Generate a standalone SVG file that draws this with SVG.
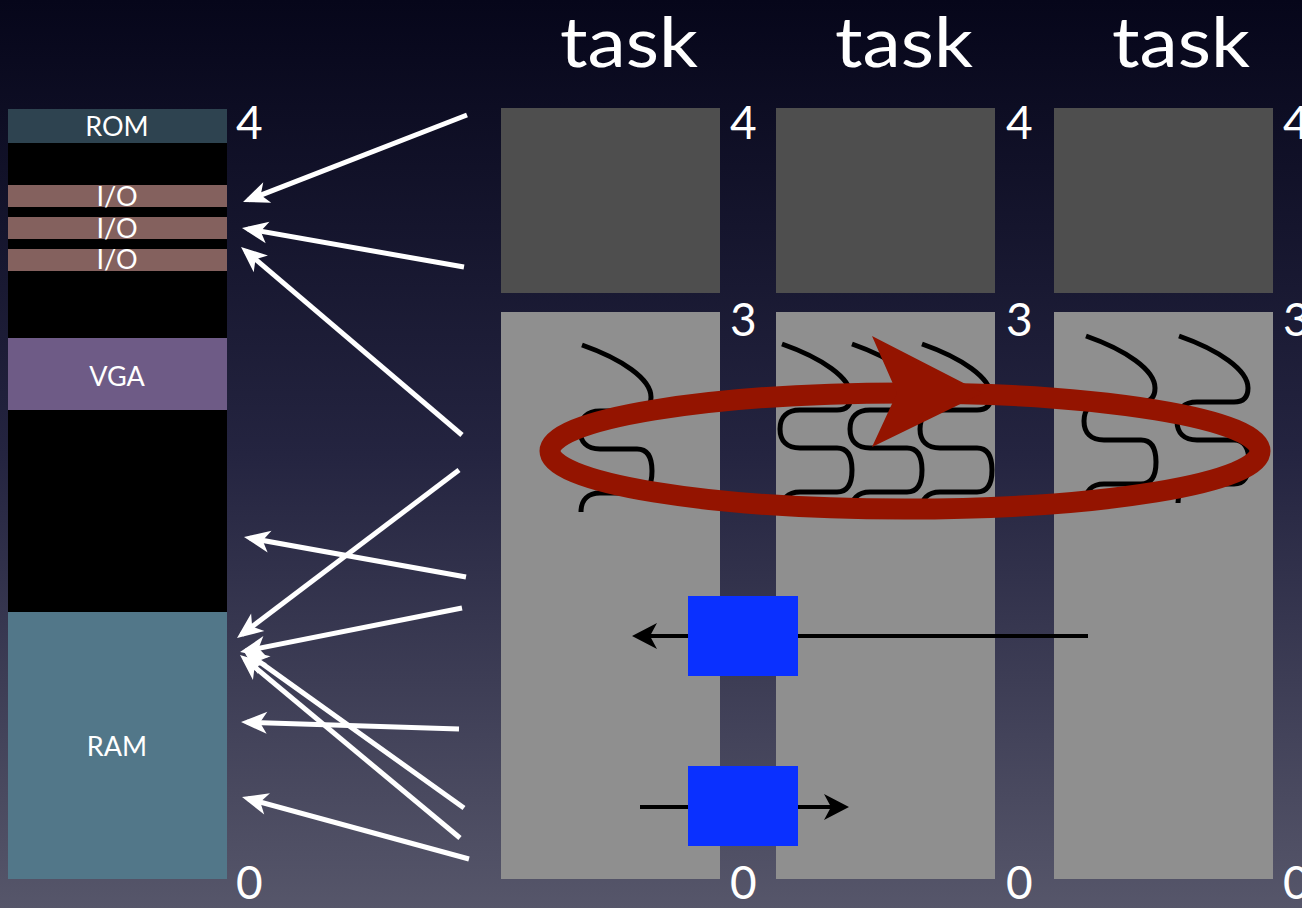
<svg xmlns="http://www.w3.org/2000/svg" xmlns:xlink="http://www.w3.org/1999/xlink" width="1302" height="908" viewBox="0 0 1302 908">
<defs>
<linearGradient id="bg" x1="0" y1="0" x2="0" y2="1">
<stop offset="0" stop-color="#06061a"/>
<stop offset="0.5" stop-color="#242440"/>
<stop offset="1" stop-color="#56566a"/>
</linearGradient>
<marker id="wh" markerUnits="userSpaceOnUse" orient="auto" overflow="visible" markerWidth="40" markerHeight="40" refX="0" refY="0">
<path d="M6,0 L-20,-11 L-13,0 L-20,11 Z" fill="#ffffff"/>
</marker>
<path id="worm" d="M0,0 C40,14 69,34 69,52 C69,62 64,66 55,66 L18,66 C5,66 -2,73 -2,85 C-2,97 5,104 18,104 L55,104 C65,104 70,111 70,126 C70,141 65,148 55,148 L18,148 C6,148 -1,155 -1,167"/>
<style>
.lbl{font-family:Lato,"Liberation Sans",sans-serif;fill:#ffffff;font-size:46px}
.mem{font-family:Lato,"Liberation Sans",sans-serif;fill:#ffffff;font-size:27px;text-anchor:middle}
.title{font-family:Lato,"Liberation Sans",sans-serif;fill:#ffffff;font-size:70px}
.dark{fill:#4e4e4e}
.light{fill:#8f8f8f}
.wa{stroke:#ffffff;stroke-width:5;fill:none;marker-end:url(#wh)}
.worm{stroke:#000000;stroke-width:5;fill:none}
.blk{stroke:#000000;stroke-width:4;fill:none}
.blue{fill:#0a30ff}
</style>
</defs>
<rect x="0" y="0" width="1302" height="908" fill="url(#bg)"/>

<g id="memory-map">
<rect x="8" y="109" width="219" height="770" fill="#000000"/>
<g id="rom"><rect x="8" y="109" width="219" height="34" fill="#2e4350"/><text class="mem" x="117" y="136">ROM</text></g>
<g id="io1"><rect x="8" y="185" width="219" height="22" fill="#84615e"/><text class="mem" x="117" y="206">I/O</text></g>
<g id="io2"><rect x="8" y="217" width="219" height="22" fill="#84615e"/><text class="mem" x="117" y="238">I/O</text></g>
<g id="io3"><rect x="8" y="249" width="219" height="22" fill="#84615e"/><text class="mem" x="117" y="269">I/O</text></g>
<g id="vga"><rect x="8" y="338" width="219" height="72" fill="#6e5b86"/><text class="mem" x="117" y="386">VGA</text></g>
<g id="ram"><rect x="8" y="612" width="219" height="267" fill="#527789"/><text class="mem" x="117" y="756">RAM</text></g>
<text class="lbl" x="236" y="139">4</text>
<text class="lbl" x="236" y="899">0</text>
</g>

<g id="task1">
<text class="title" x="560" y="67" textLength="138" lengthAdjust="spacingAndGlyphs">task</text>
<rect class="dark" x="501" y="108" width="219" height="185"/>
<rect class="light" x="501" y="312" width="219" height="567"/>
<text class="lbl" x="730" y="139">4</text>
<text class="lbl" x="730" y="336">3</text>
<text class="lbl" x="730" y="899">0</text>
</g>
<g id="task2">
<text class="title" x="835" y="67" textLength="138" lengthAdjust="spacingAndGlyphs">task</text>
<rect class="dark" x="776" y="108" width="219" height="185"/>
<rect class="light" x="776" y="312" width="219" height="567"/>
<text class="lbl" x="1006" y="139">4</text>
<text class="lbl" x="1006" y="336">3</text>
<text class="lbl" x="1006" y="899">0</text>
</g>
<g id="task3">
<text class="title" x="1112" y="67" textLength="138" lengthAdjust="spacingAndGlyphs">task</text>
<rect class="dark" x="1054" y="108" width="219" height="185"/>
<rect class="light" x="1054" y="312" width="219" height="567"/>
<text class="lbl" x="1283" y="139">4</text>
<text class="lbl" x="1283" y="336">3</text>
<text class="lbl" x="1283" y="899">0</text>
</g>

<g id="threads">
<use xlink:href="#worm" href="#worm" class="worm" transform="translate(582,345)"/>
<use xlink:href="#worm" href="#worm" class="worm" transform="translate(782,344)"/>
<use xlink:href="#worm" href="#worm" class="worm" transform="translate(852,344)"/>
<use xlink:href="#worm" href="#worm" class="worm" transform="translate(922,344)"/>
<use xlink:href="#worm" href="#worm" class="worm" transform="translate(1086,336)"/>
<use xlink:href="#worm" href="#worm" class="worm" transform="translate(1179,336)"/>
</g>

<g id="scheduler-cycle">
<ellipse cx="905" cy="451" rx="355" ry="58" fill="none" stroke="#941400" stroke-width="21"/>
<path d="M983,393 L872,336 L897,393 L872,447 Z" fill="#941400"/>
</g>

<g id="connectors">
<line class="wa" x1="467" y1="115" x2="248.6" y2="199.8"/>
<line class="wa" x1="464" y1="267" x2="247.9" y2="229"/>
<line class="wa" x1="462" y1="435" x2="245.6" y2="250.9"/>
<line class="wa" x1="466" y1="577" x2="249.9" y2="538.1"/>
<line class="wa" x1="459" y1="470" x2="241.8" y2="634.4"/>
<line class="wa" x1="462" y1="608" x2="245.9" y2="650.8"/>
<line class="wa" x1="464" y1="808" x2="247.9" y2="653.5"/>
<line class="wa" x1="460" y1="838" x2="244.6" y2="658.8"/>
<line class="wa" x1="459" y1="729" x2="247" y2="722.2"/>
<line class="wa" x1="469" y1="859" x2="247.8" y2="798.6"/>
<line class="blk" x1="1088" y1="636" x2="650" y2="636"/>
<path d="M632,636 L657,623 L650,636 L657,649 Z" fill="#000000"/>
<line class="blk" x1="640" y1="807" x2="832" y2="807"/>
<path d="M849,807 L824,794 L831,807 L824,820 Z" fill="#000000"/>
</g>

<g id="block1"><rect class="blue" x="688" y="596" width="110" height="80"/></g>
<g id="block2"><rect class="blue" x="688" y="766" width="110" height="80"/></g>
</svg>
